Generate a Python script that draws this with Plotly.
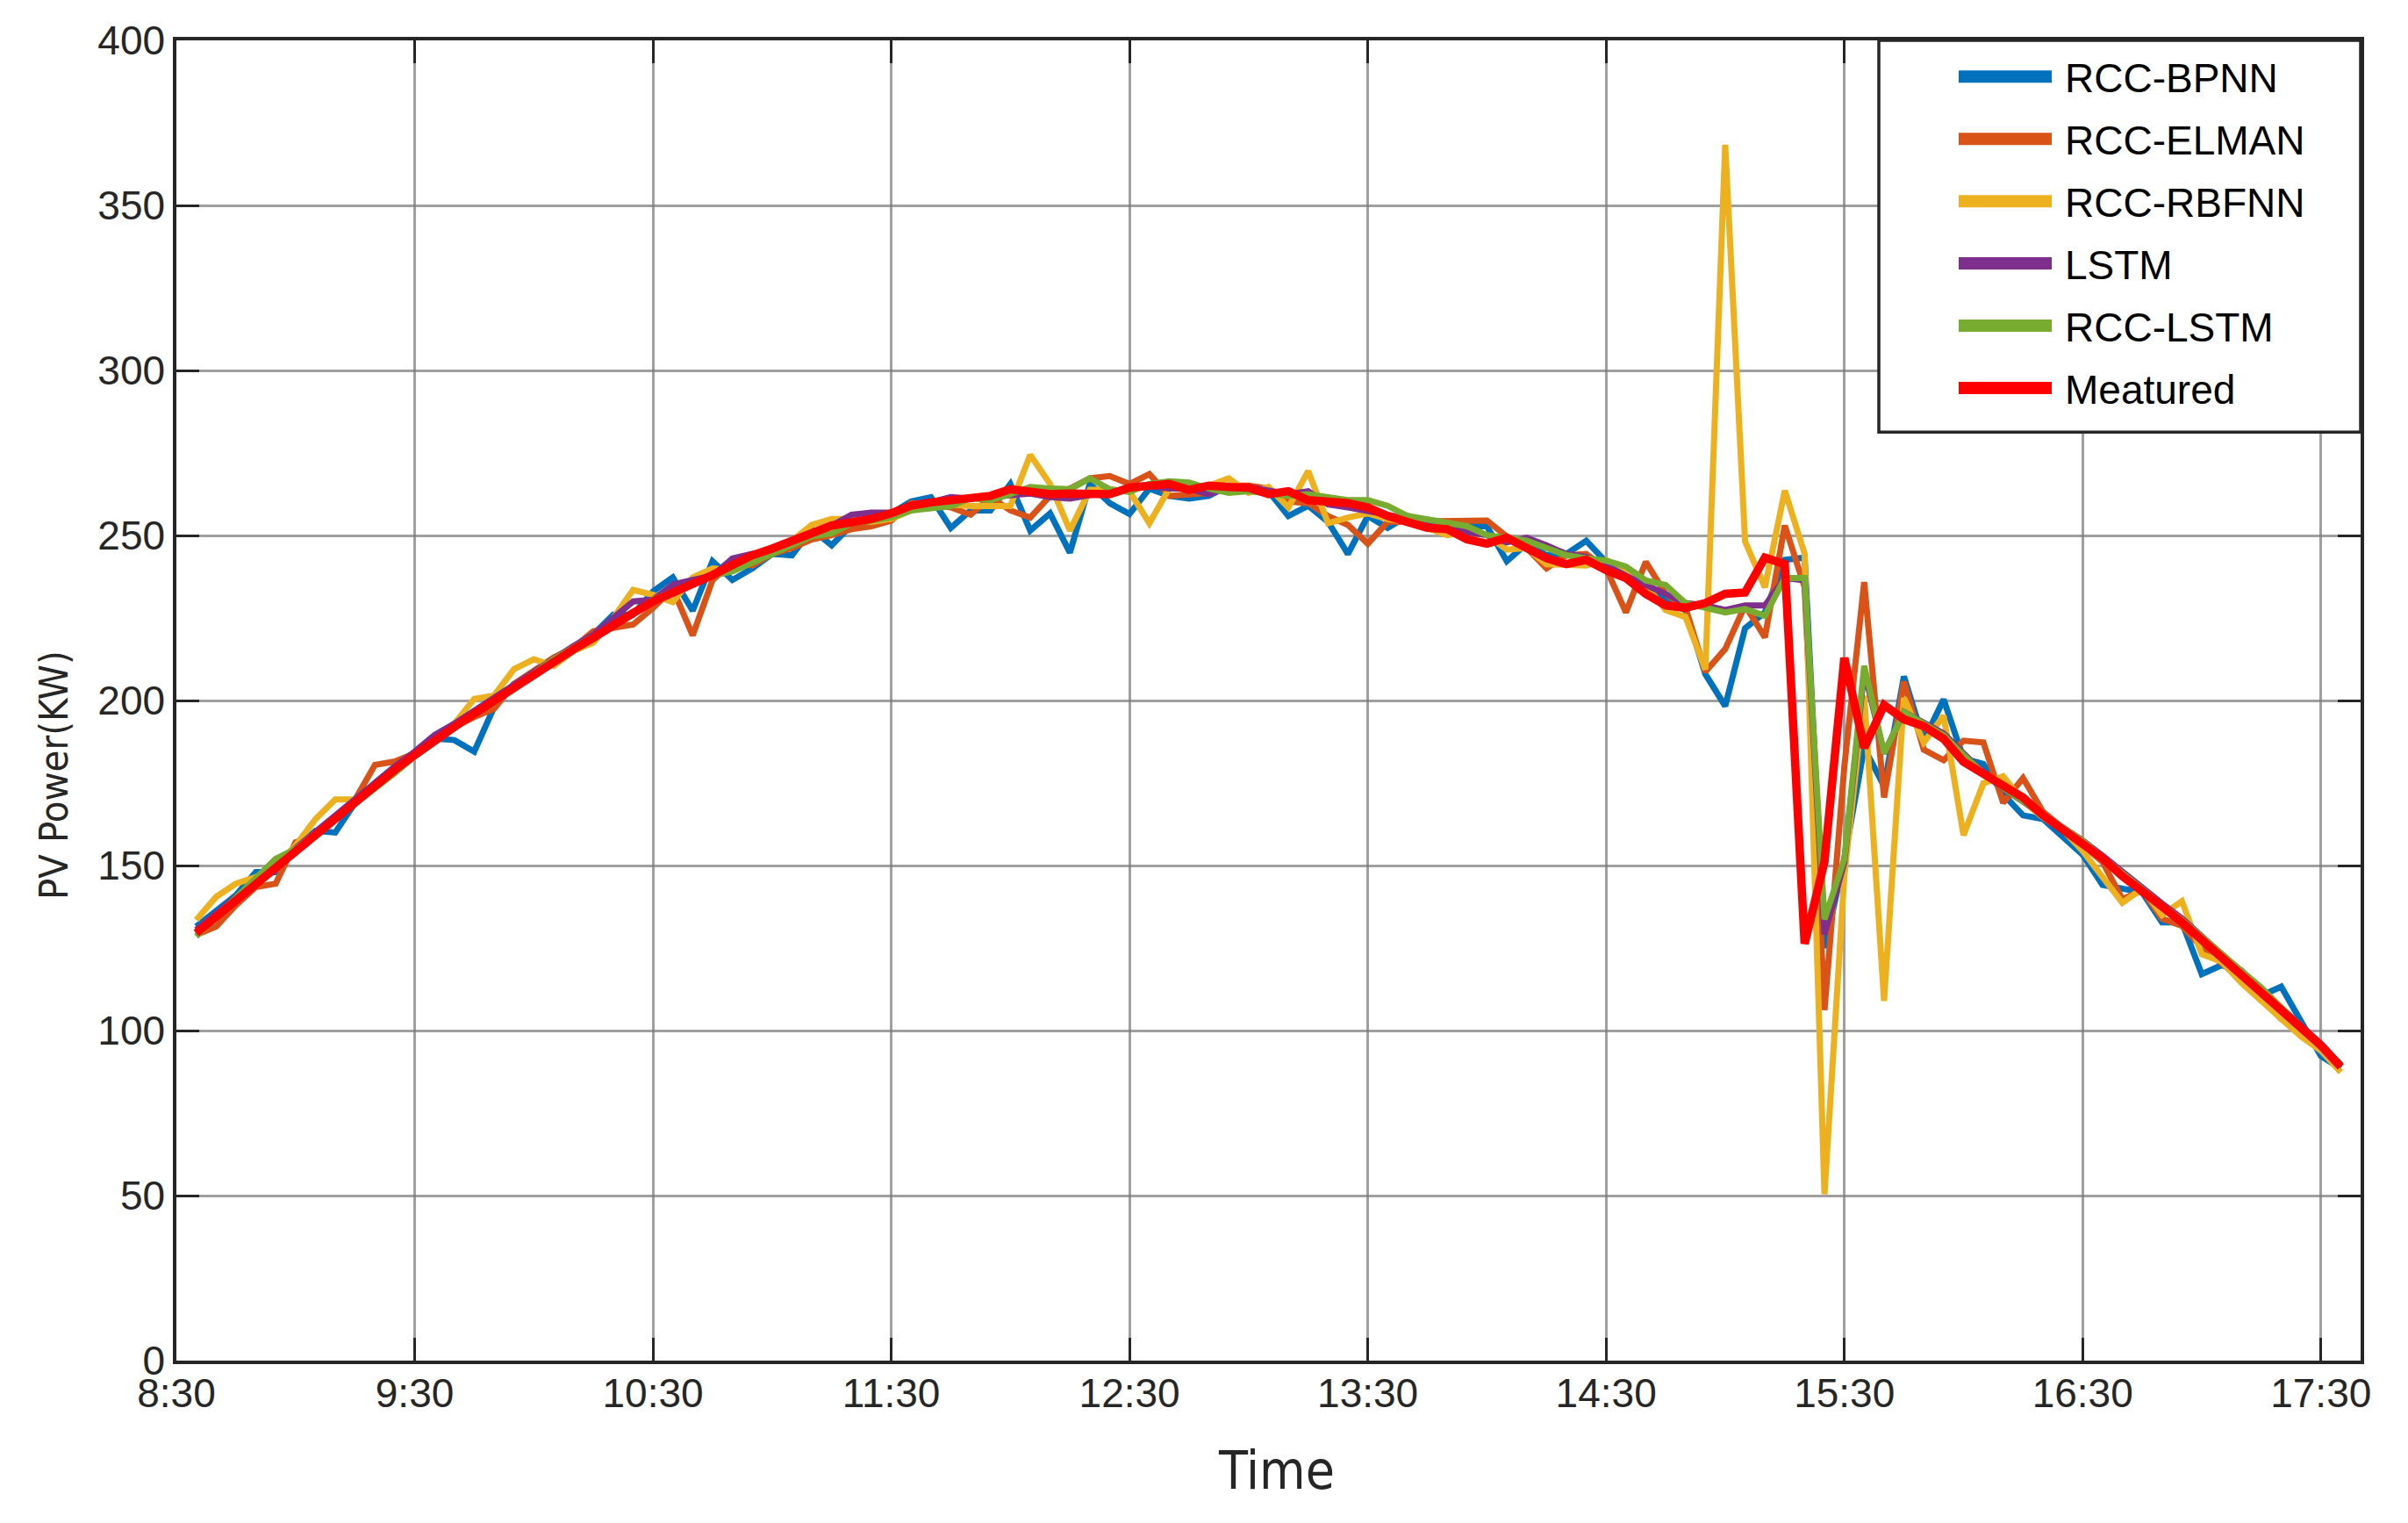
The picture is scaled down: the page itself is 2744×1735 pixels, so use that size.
import plotly.graph_objects as go

# ---------------- data ----------------
time_index = list(range(1, 110))          # 5-minute steps after 8:30
tick_positions = [0, 12, 24, 36, 48, 60, 72, 84, 96, 108]
tick_labels = ["8:30", "9:30", "10:30", "11:30", "12:30", "13:30",
               "14:30", "15:30", "16:30", "17:30"]
y_ticks = [0, 50, 100, 150, 200, 250, 300, 350, 400]

rcc_bpnn = [
    131.5, 136, 141, 148, 148, 155, 160.5, 160, 169, 175, 180, 183.5, 188.5, 188, 184.5, 198, 205, 208, 211.5, 215, 220, 226, 226, 233,
    237.3, 227.2, 242.2, 236.5, 240, 244.4, 244, 251.9, 247, 253.2, 254.5, 256.7, 260.3, 261.6, 252.3, 257.6, 257.6, 265.6, 251.5, 256.7, 244.8, 265.6, 259.8, 256.5,
    264.2, 262, 261.2, 262, 265.1, 264.2, 263.4, 255.9, 259, 254.1, 244.4, 255.9, 252.3, 255.9, 254.1, 250.6, 252.8, 252.8, 242.2, 247.5, 244, 244.4, 248.4, 242,
    237.8, 234.3, 230.2, 227.4, 208, 198.3, 221.9, 226.7, 242.6, 243.3, 125, 152,
    185.7, 174, 207.3, 187.8, 200.3, 182.4, 180.8, 171.6, 165.2, 164.1, 158.7, 153.3, 144.1, 143, 141.9, 132.8, 132.8, 117.1, 119.8, 118.2, 110.6, 113.3, 102.5, 92.3, 88.5,
]
rcc_elman = [
    129, 131.5, 138, 143.5, 144.5, 157, 159, 164, 170, 180.5, 181.5, 184, 188, 192, 195, 197.5, 205, 209, 213, 216, 221, 222, 223, 228,
    233.8, 219.7, 236.5, 241.8, 240.9, 244.4, 246.2, 248.8, 250.1, 251.9, 252.8, 254.5, 259.8, 259.4, 258.5, 256.3, 261.6, 257.6, 255.4, 262, 264.2, 267.3, 268, 265.6,
    268.6, 262, 262.5, 262.9, 265.1, 265.1, 264.2, 260.3, 259.8, 255.9, 253.2, 247.5, 254.1, 254.1, 254.1, 254.1, 254.5, 254.5, 249.7, 246.2, 240, 244, 244.4, 240,
    226.7, 242, 232.3, 228.1, 208.7, 215.6, 228.8, 219.1, 253, 234.3, 106.2, 180,
    235.9, 170.6, 205.7, 185.1, 181.9, 187.8, 187.3, 169, 176.5, 166.3, 161.4, 156.5, 151.1, 139.8, 142.5, 133.9, 131.7, 125.2, 120.4, 115.5, 109.6, 103.6, 99.3, 95.5, 89.6,
]
rcc_rbfnn = [
    133.5, 140.5, 144.5, 146.5, 150, 156, 164, 170, 170, 174.5, 179, 184, 188, 193, 200.5, 201.5, 209.5, 212.5, 210.5, 215, 217.5, 225, 233.5, 232,
    229.8, 237.3, 240, 239.5, 242.2, 245.3, 248.4, 253.2, 255, 255, 254.1, 255, 257.6, 259.4, 259.4, 258.9, 258.9, 258.9, 274.4, 265.6, 251.5, 263.8, 263.8, 263.4,
    253.7, 264.2, 264.2, 265.1, 267.3, 262.9, 264.7, 258.5, 269.5, 253.7, 255.4, 256.7, 255, 254.1, 252.3, 250.1, 251, 250.1, 245.7, 246.2, 241.3, 240.9, 240.9, 242.6,
    238.5, 235, 227.4, 225.3, 209.4, 368.4, 248.2, 234.3, 263.6, 244.4, 50.4, 147,
    201.5, 109, 200.8, 187.3, 195.4, 159.2, 174.9, 177, 169.5, 164.6, 160.8, 154.4, 146.8, 138.7, 143, 135, 139.2, 123.1, 120.9, 114.4, 109, 103.6, 98.2, 93.9, 87.4,
]
lstm = [
    130.5, 135.5, 140, 145, 150, 155, 160, 165, 170, 175, 180, 184.5, 189.5, 193, 197, 200.5, 205, 209, 213, 216.5, 220, 225, 230, 230.5,
    235.1, 236.5, 237.8, 243, 244.4, 244.8, 247.5, 250.5, 253, 256.3, 256.9, 256.9, 258.5, 260, 261.6, 261.2, 261.6, 262, 262.7, 261.6, 261.2, 262.2, 262.9, 264.5,
    265.1, 264.2, 264.2, 262.5, 264.7, 264.7, 263.8, 262.5, 263.4, 259.4, 258.5, 257.6, 256.3, 255, 253.7, 252.8, 251, 250.1, 247.9, 249.3, 247, 244.4, 243.5, 241,
    237.8, 235, 232.3, 229.5, 228.8, 227.4, 228.8, 228.8, 237.1, 236.4, 129.2, 151,
    209, 184, 196.5, 193.3, 190, 184, 178.1, 173.3, 169.5, 165.7, 161.9, 157.6, 153, 148, 143.5, 138.5, 134, 128.5, 123, 118, 112.5, 107, 101, 96, 89.5,
]
rcc_lstm = [
    128.5, 134.5, 140, 146, 152, 155, 159.5, 164, 168.5, 173, 178, 183, 187.5, 192, 196, 199.5, 204, 208.5, 212.5, 216, 219.5, 223, 226, 230.5,
    232.9, 235.1, 237.8, 239.1, 241.8, 244.4, 247.5, 249.7, 250.6, 253.7, 254.5, 255.4, 257.6, 258.1, 258.9, 261.3, 260.7, 262.5, 264.7, 264.2, 264, 267.3, 264, 263.2,
    265.6, 266.4, 266, 264.2, 262.9, 263.4, 262.9, 262, 262.5, 261.6, 260.7, 260.7, 259, 255.9, 255, 254.1, 252.8, 250.1, 249.3, 248.4, 246.2, 244, 243.1, 242.4,
    240.6, 236.4, 235, 229.5, 228.1, 226.7, 227.7, 225.7, 237.1, 237.1, 133.7, 152,
    210.5, 184, 196.5, 193, 189.5, 183.5, 178, 173.5, 169.5, 165.5, 161.5, 157.5, 152.5, 147.5, 143, 138, 133.5, 128.5, 123.5, 118.5, 113, 107, 101, 95.5, 89.5,
]
measured = [
    129.5, 134.5, 139.5, 144, 149, 154, 159, 164, 169, 174, 179, 183.5, 188, 192, 196, 200, 204, 208, 212, 215.5, 219, 223, 226.5, 230,
    232.5, 235, 238, 241, 244, 246, 248.5, 251, 253, 254, 255, 256.7, 259, 260, 260.5, 261, 262, 264, 263.4, 262.5, 262.7, 262.7, 262.5, 264.5,
    265.1, 265.6, 263.8, 265.1, 264.7, 264.5, 262.5, 263.4, 260.7, 260.3, 259.8, 258.5, 255.9, 254.1, 252.3, 251.9, 248.8, 247.5, 249.3, 246.2, 243.1, 241.3, 242.6, 239.5,
    237.1, 232.3, 228.8, 228.1, 229.5, 232.3, 232.7, 243.3, 241.3, 126.3, 151.2, 212.9,
    185.7, 198.6, 194.3, 192.2, 188.4, 181.4, 177.6, 173.8, 170.6, 165.2, 160.8, 157.1, 152.2, 146.8, 142.5, 137.6, 132.8, 127.4, 122, 117.1, 111.7, 105.8, 100.4, 95.5, 89,
]

series_names = ["RCC-BPNN", "RCC-ELMAN", "RCC-RBFNN", "LSTM", "RCC-LSTM", "Meatured"]
series_values = [rcc_bpnn, rcc_elman, rcc_rbfnn, lstm, rcc_lstm, measured]
series_colors = ["#0072BD", "#D95319", "#EDB120", "#7E2F8E", "#77AC30", "#FF0000"]
series_widths = [7, 7, 7, 7, 7, 9.5]

# ---------------- figure geometry ----------------
W, H = 2744, 1735
BODY = 8                               # default page body margin
PLOT_L, PLOT_R, PLOT_T, PLOT_B = 201, 2690, 38.5, 1550.5   # target plot box on screen
ML = PLOT_L - BODY
MT = PLOT_T - BODY
MR = W - (PLOT_R - BODY)
MB = H - (PLOT_B - BODY)
PW, PH = PLOT_R - PLOT_L, PLOT_B - PLOT_T

FONT = "Liberation Sans, Arial, Helvetica, sans-serif"
NARROW = "Liberation Sans Narrow, Arial Narrow, DejaVu Sans Condensed, Liberation Sans, Arial, sans-serif"
INK = "#262626"

fig = go.Figure()
for name, vals, col, lw in zip(series_names, series_values, series_colors, series_widths):
    fig.add_trace(go.Scatter(x=time_index, y=vals, mode="lines", name=name,
                             line=dict(color=col, width=lw), showlegend=False))

axis_common = dict(
    showline=True, linecolor=INK, linewidth=3.5, mirror="ticks",
    ticks="inside", ticklen=26, tickwidth=3, tickcolor=INK,
    showgrid=True, gridcolor="rgba(120,120,120,0.7)", gridwidth=2.5,
    zeroline=False, tickfont=dict(family=FONT, size=46, color=INK),
)
fig.update_xaxes(range=[0, 110], tickmode="array", tickvals=tick_positions,
                 ticktext=tick_labels, ticklabelstandoff=-6, **axis_common)
fig.update_yaxes(range=[0, 400], tickmode="array", tickvals=y_ticks,
                 ticklabelstandoff=0, **axis_common)

def sx(px):   # screen x -> paper
    return (px - PLOT_L) / PW

def sy(py):   # screen y -> paper
    return (PLOT_B - py) / PH

annotations = [
    dict(text="Time", x=sx(1454), y=sy(1676), xref="paper", yref="paper",
         xanchor="center", yanchor="middle", showarrow=False,
         font=dict(family=NARROW, size=60, color=INK)),
    dict(text="PV Power(KW)", x=sx(61), y=sy(880), xref="paper", yref="paper",
         xanchor="center", yanchor="middle", textangle=-90, showarrow=False,
         font=dict(family=NARROW, size=45, color=INK)),
]

# legend box (drawn as shapes + text to match the long sample lines)
shapes = [dict(type="rect", xref="paper", yref="paper",
               x0=sx(2141), x1=1.0, y0=sy(487), y1=1.0,
               line=dict(color=INK, width=3.5), fillcolor="white", layer="above")]
for i, (name, col) in enumerate(zip(series_names, series_colors)):
    py = 80 + 71.3 * i
    shapes.append(dict(type="line", xref="paper", yref="paper",
                       x0=sx(2232), x1=sx(2338), y0=sy(py), y1=sy(py),
                       line=dict(color=col, width=14), layer="above"))
    annotations.append(dict(text=name, x=sx(2351), y=sy(py + 2),
                            xref="paper", yref="paper", xanchor="left", yanchor="middle",
                            showarrow=False, font=dict(family=FONT, size=46, color="black")))

fig.update_layout(
    width=W, height=H, autosize=False,
    margin=dict(l=ML, r=MR, t=MT, b=MB, pad=0),
    paper_bgcolor="white", plot_bgcolor="white",
    shapes=shapes, annotations=annotations, showlegend=False,
)

fig.write_html("out.html")
